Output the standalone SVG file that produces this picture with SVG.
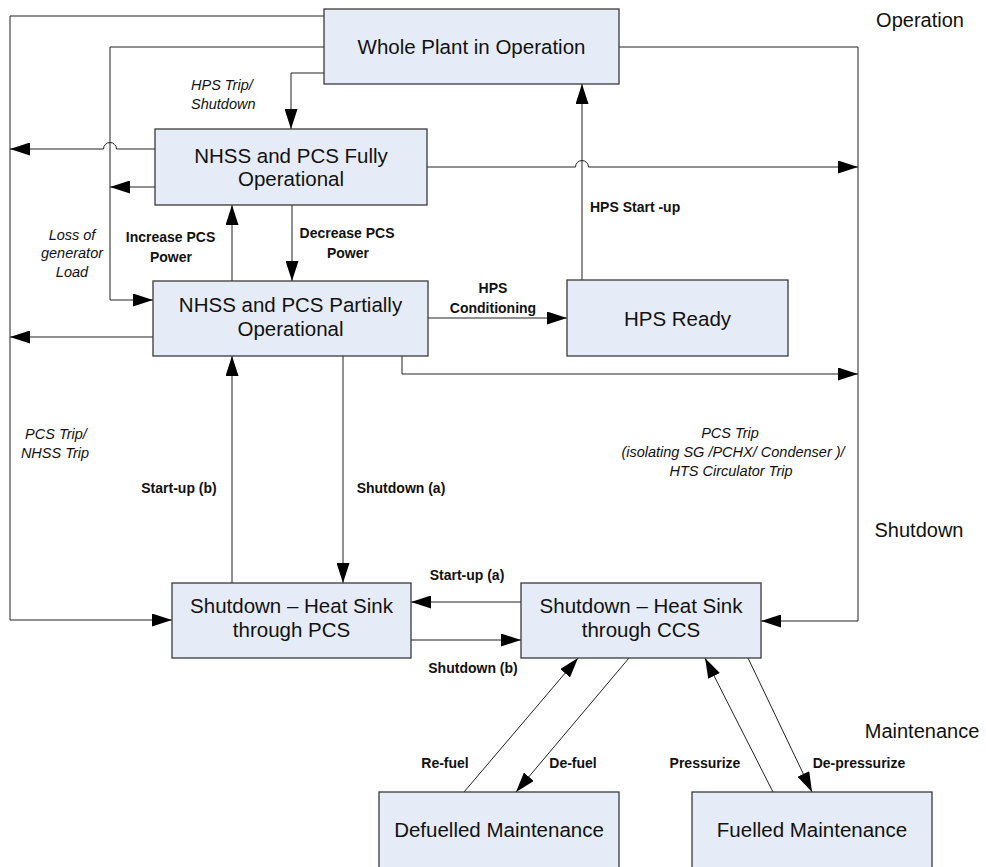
<svg xmlns="http://www.w3.org/2000/svg" width="986" height="867" viewBox="0 0 986 867">
<style>
.box{fill:#E6ECF7;stroke:#3a3a3a;stroke-width:1.3}
.bt{font-family:"Liberation Sans",Arial,sans-serif;font-size:20.5px;fill:#111;text-anchor:middle}
.side{font-family:"Liberation Sans",Arial,sans-serif;font-size:20px;fill:#111;text-anchor:middle}
.c{fill:none;stroke:#222;stroke-width:1}
.a{marker-end:url(#ah)}
.lb{font-family:"Liberation Sans",Arial,sans-serif;font-size:14px;font-weight:bold;fill:#111;text-anchor:middle}
.li{font-family:"Liberation Sans",Arial,sans-serif;font-size:14.5px;font-style:italic;fill:#111;text-anchor:middle}
</style>
<defs>
<marker id="ah" markerWidth="20" markerHeight="13" refX="20" refY="6.5" orient="auto" markerUnits="userSpaceOnUse"><path d="M0,0 L20,6.5 L0,13 z" fill="#000"/></marker>
</defs>
<rect width="986" height="867" fill="#fff"/>

<g id="connectors">
<path class="c a" d="M324,16 H10 V620 H172"/>
<path class="c a" d="M324,47 H110 V300 H153"/>
<path class="c a" d="M324,73 H291 V129"/>
<path class="c a" d="M155,149 H116.5 A6.5,6.5 0 0 0 103.5,149 H10"/>
<path class="c a" d="M155,187 H110"/>
<path class="c a" d="M619,47 H858 V621 H761"/>
<path class="c a" d="M427,167 H575.5 A6.5,6.5 0 0 1 588.5,167 H858"/>
<path class="c a" d="M582,280 V84"/>
<path class="c a" d="M232,281 V205"/>
<path class="c a" d="M292,205 V281"/>
<path class="c a" d="M153,337 H10"/>
<path class="c a" d="M428,318 H567"/>
<path class="c a" d="M402,356 V374 H858"/>
<path class="c a" d="M232,583 V356"/>
<path class="c a" d="M343,356 V583"/>
<path class="c a" d="M521,602 H411"/>
<path class="c a" d="M411,640 H521"/>
<path class="c a" d="M464,792 L578,658"/>
<path class="c a" d="M629,658 L516,792"/>
<path class="c a" d="M773,792 L705,658"/>
<path class="c a" d="M748,658 L812,792"/>
</g>

<g id="node-whole-plant">
<rect class="box" x="324" y="9" width="295" height="75"/>
<text class="bt" x="471.5" y="54">Whole Plant in Operation</text>
</g>
<g id="node-fully">
<rect class="box" x="155" y="129" width="272" height="76"/>
<text class="bt" x="291" y="163">NHSS and PCS Fully</text>
<text class="bt" x="291" y="186">Operational</text>
</g>
<g id="node-partially">
<rect class="box" x="153" y="281" width="275" height="75"/>
<text class="bt" x="290.5" y="312">NHSS and PCS Partially</text>
<text class="bt" x="290.5" y="336">Operational</text>
</g>
<g id="node-hps-ready">
<rect class="box" x="567" y="280" width="221" height="76"/>
<text class="bt" x="677.5" y="326">HPS Ready</text>
</g>
<g id="node-shutdown-pcs">
<rect class="box" x="172" y="583" width="239" height="75"/>
<text class="bt" x="291.5" y="613">Shutdown – Heat Sink</text>
<text class="bt" x="291.5" y="637">through PCS</text>
</g>
<g id="node-shutdown-ccs">
<rect class="box" x="521" y="583" width="240" height="75"/>
<text class="bt" x="641" y="613">Shutdown – Heat Sink</text>
<text class="bt" x="641" y="637">through CCS</text>
</g>
<g id="node-defuelled">
<rect class="box" x="379" y="792" width="240" height="80"/>
<text class="bt" x="499" y="837">Defuelled Maintenance</text>
</g>
<g id="node-fuelled">
<rect class="box" x="692" y="792" width="240" height="80"/>
<text class="bt" x="812" y="837">Fuelled Maintenance</text>
</g>

<g id="labels">
<text class="side" x="920" y="27">Operation</text>
<text class="side" x="919" y="537">Shutdown</text>
<text class="side" x="922" y="738">Maintenance</text>

<text class="li" x="191" y="90" text-anchor="start" style="text-anchor:start">HPS Trip/</text>
<text class="li" x="191" y="109" style="text-anchor:start">Shutdown</text>
<text class="li" x="72" y="240">Loss of</text>
<text class="li" x="72" y="258">generator</text>
<text class="li" x="72" y="277">Load</text>
<text class="lb" x="170.5" y="242">Increase PCS</text>
<text class="lb" x="171" y="262">Power</text>
<text class="lb" x="347" y="238">Decrease PCS</text>
<text class="lb" x="348" y="258">Power</text>
<text class="lb" x="493" y="293">HPS</text>
<text class="lb" x="493" y="313">Conditioning</text>
<text class="lb" x="590" y="212" style="text-anchor:start">HPS Start -up</text>
<text class="li" x="56" y="439">PCS Trip/</text>
<text class="li" x="55" y="458">NHSS Trip</text>
<text class="lb" x="179" y="493">Start-up (b)</text>
<text class="lb" x="401" y="493">Shutdown (a)</text>
<text class="li" x="730" y="438">PCS Trip</text>
<text class="li" x="733" y="457">(isolating SG /PCHX/ Condenser )/</text>
<text class="li" x="731" y="476">HTS Circulator Trip</text>
<text class="lb" x="467" y="580">Start-up (a)</text>
<text class="lb" x="473" y="673">Shutdown (b)</text>
<text class="lb" x="445" y="768">Re-fuel</text>
<text class="lb" x="573" y="768">De-fuel</text>
<text class="lb" x="705" y="768">Pressurize</text>
<text class="lb" x="859" y="768">De-pressurize</text>
</g>
</svg>
